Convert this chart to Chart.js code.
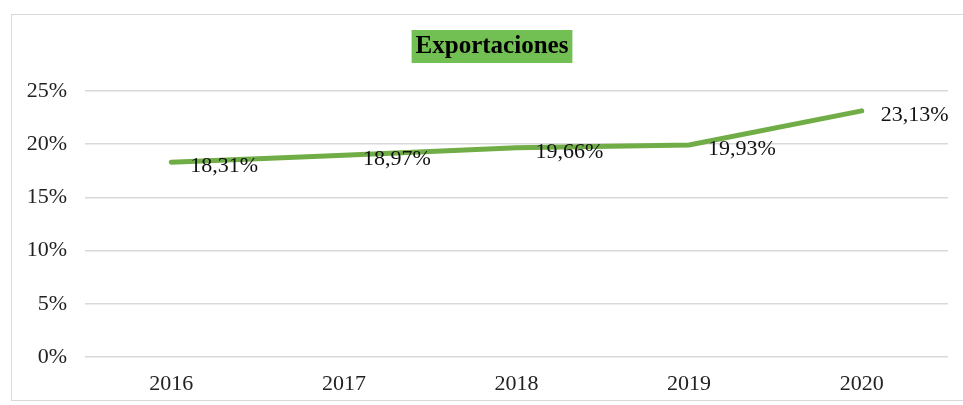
<!DOCTYPE html>
<html>
<head>
<meta charset="utf-8">
<script src="https://cdn.jsdelivr.net/npm/chart.js@4.4.1/dist/chart.umd.min.js"></script>
<style>
  html, body { margin: 0; padding: 0; background: #fff; }
  #wrap { position: relative; width: 963px; height: 405px; }
  #frame { position: absolute; left: 11px; top: 14px; width: 960px; height: 385px;
           border: 1px solid #d9d9d9; border-right: none; }
  canvas { position: absolute; left: 0; top: 0; }
</style>
</head>
<body>
<div id="wrap">
  <div id="frame"></div>
  <canvas id="chart" width="963" height="405"></canvas>
</div>
<script>
// Exportaciones (% del PIB)
const years = ['2016', '2017', '2018', '2019', '2020'];
const exportShare = [18.31, 18.97, 19.66, 19.93, 23.13];
const yTicks = [0, 5, 10, 15, 20, 25];

const serif = "'Liberation Serif', 'Times New Roman', serif";
const fmtPct = v => v.toFixed(2).replace('.', ',') + '%';

// green banner title
const titleBanner = {
  id: 'titleBanner',
  afterDraw(chart) {
    const ctx = chart.ctx;
    ctx.save();
    ctx.font = `bold 25px ${serif}`;
    const text = 'Exportaciones';
    const w = ctx.measureText(text).width;
    const cx = 492, cy = 47;
    ctx.fillStyle = '#72bf53';
    ctx.fillRect(cx - w / 2 - 4, 30, w + 8, 33);
    ctx.fillStyle = '#000';
    ctx.textAlign = 'center';
    ctx.textBaseline = 'middle';
    ctx.fillText(text, cx, cy);
    ctx.restore();
  }
};

// value labels to the right of each point
const valueLabels = {
  id: 'valueLabels',
  afterDatasetsDraw(chart) {
    const ctx = chart.ctx;
    const meta = chart.getDatasetMeta(0);
    ctx.save();
    ctx.font = `22px ${serif}`;
    ctx.fillStyle = '#111';
    ctx.textAlign = 'left';
    ctx.textBaseline = 'middle';
    meta.data.forEach((pt, i) => {
      ctx.fillText(fmtPct(exportShare[i]), pt.x + 19, pt.y + 4);
    });
    ctx.restore();
  }
};

new Chart(document.getElementById('chart'), {
  type: 'line',
  data: {
    labels: years,
    datasets: [{
      label: 'Exportaciones',
      data: exportShare,
      borderColor: '#70ad47',
      borderWidth: 5,
      borderCapStyle: 'round',
      pointRadius: 0,
      tension: 0,
      fill: false
    }]
  },
  options: {
    responsive: false,
    animation: false,
    layout: { padding: { top: 91, right: 15, bottom: 0, left: 0 } },
    plugins: { legend: { display: false }, tooltip: { enabled: false } },
    scales: {
      x: {
        offset: true,
        grid: { display: false, drawTicks: false },
        border: { display: false },
        ticks: { color: '#222', font: { family: serif, size: 22 }, padding: 14 },
        afterFit: s => { s.height = 48; }
      },
      y: {
        min: 0, max: 25,
        afterBuildTicks: s => { s.ticks = yTicks.map(v => ({ value: v })); },
        grid: { color: '#d9d9d9', lineWidth: 1.5, drawTicks: false },
        border: { display: false },
        ticks: { color: '#222', font: { family: serif, size: 22 }, padding: 18,
                 callback: v => v + '%' },
        afterFit: s => { s.width = 85; }
      }
    }
  },
  plugins: [titleBanner, valueLabels]
});
</script>
</body>
</html>
